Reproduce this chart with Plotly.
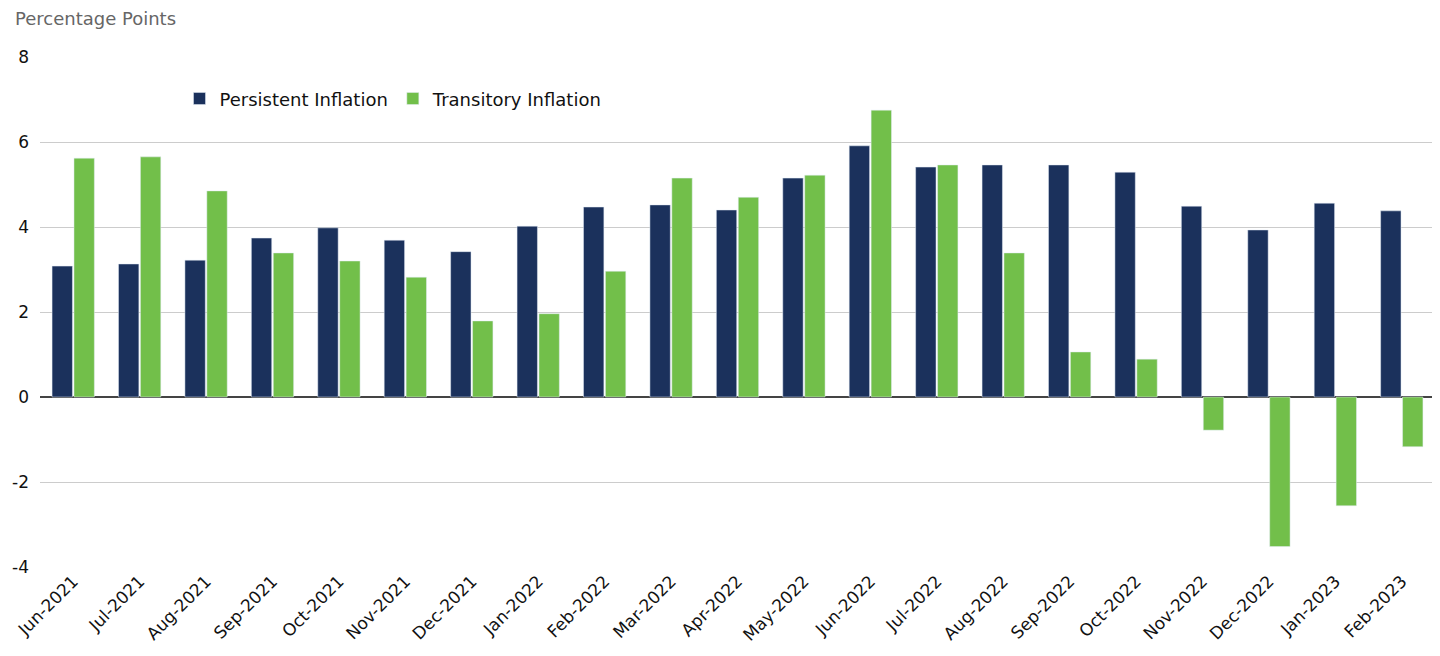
import plotly.graph_objects as go

meses = ["Jun-2021", "Jul-2021", "Aug-2021", "Sep-2021", "Oct-2021", "Nov-2021", "Dec-2021",
         "Jan-2022", "Feb-2022", "Mar-2022", "Apr-2022", "May-2022", "Jun-2022", "Jul-2022",
         "Aug-2022", "Sep-2022", "Oct-2022", "Nov-2022", "Dec-2022", "Jan-2023", "Feb-2023"]

persistente = [3.08, 3.13, 3.22, 3.74, 3.98, 3.69, 3.42, 4.02, 4.47, 4.52, 4.40, 5.15, 5.91, 5.41,
               5.46, 5.46, 5.29, 4.49, 3.93, 4.56, 4.38]

transitoria = [5.62, 5.65, 4.85, 3.39, 3.20, 2.82, 1.79, 1.96, 2.96, 5.15, 4.70, 5.22, 6.75, 5.46,
               3.39, 1.06, 0.89, -0.78, -3.52, -2.56, -1.17]

y_ticks = [-4, -2, 0, 2, 4, 6, 8]
y_etiquetas = ["-4", "-2", "0", "2", "4", "6", "8"]

fuente = "'DejaVu Sans', sans-serif"

fig = go.Figure()
fig.add_trace(go.Bar(x=meses, y=persistente, name="Persistent Inflation", marker_color="#1b315c"))
fig.add_trace(go.Bar(x=meses, y=transitoria, name="Transitory Inflation", marker_color="#72bf4a"))

# la página tiene 8px de margen en el body, por eso los márgenes compensan
fig.update_layout(
    width=1440, height=656,
    margin=dict(l=32, r=13, t=49, b=97, autoexpand=False),
    plot_bgcolor="white", paper_bgcolor="white",
    barmode="group", bargap=0.34, bargroupgap=0.07,
    font=dict(family=fuente, size=16, color="#111111"),
    showlegend=True,
    legend=dict(orientation="h", x=0.1, y=0.918, xanchor="left", yanchor="middle",
                font=dict(size=18), bgcolor="rgba(0,0,0,0)", traceorder="normal",
                itemwidth=30),
    annotations=[dict(text="Percentage Points", xref="paper", yref="paper", x=-0.019, y=1.05,
                      xanchor="left", yanchor="bottom", showarrow=False,
                      font=dict(size=18, color="#666666"))],
)
fig.update_xaxes(tickangle=-45, showgrid=False, showline=False, ticks="", automargin=False,
                 tickfont=dict(size=17))
fig.update_yaxes(range=[-4, 8], tickmode="array", tickvals=y_ticks, ticktext=y_etiquetas,
                 showgrid=True, gridcolor="#cccccc", gridwidth=1,
                 zeroline=True, zerolinecolor="#444444", zerolinewidth=1.5, automargin=False,
                 ticks="", ticklabelstandoff=10, tickfont=dict(size=17))

fig.write_html("out.html")
